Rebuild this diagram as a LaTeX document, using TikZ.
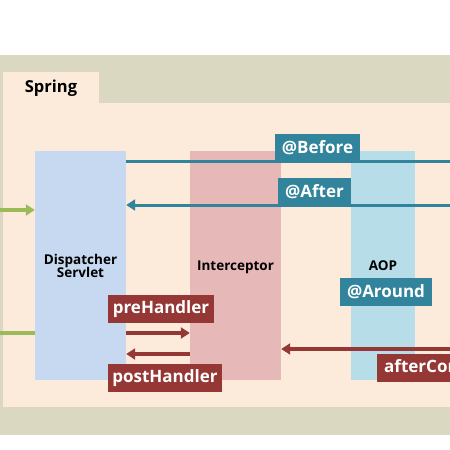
\documentclass[tikz,border=0pt]{standalone}
\usepackage{fontspec}
\setmainfont{Open Sans}
\usetikzlibrary{arrows.meta}
\definecolor{olive}{HTML}{DBD8C2}
\definecolor{peach}{HTML}{FCEBDA}
\definecolor{dsblue}{HTML}{C6D9F0}
\definecolor{icpink}{HTML}{E6B8B7}
\definecolor{aopblue}{HTML}{B7DEE8}
\definecolor{teal}{HTML}{31849B}
\definecolor{dred}{HTML}{953735}
\definecolor{lgreen}{HTML}{9BBB59}
\tikzset{
  x=1pt, y=-1pt,
  comp/.style={minimum height=229pt, inner sep=0pt, font=\bfseries\fontsize{13.5}{15}\selectfont, align=center},
  tlabel/.style={fill=teal, text=white, font=\bfseries\fontsize{17}{18}\selectfont, inner sep=0pt, minimum height=27pt},
  rlabel/.style={fill=dred, text=white, font=\bfseries\fontsize{17}{18}\selectfont, inner sep=0pt, minimum height=28pt},
  tline/.style={draw=teal, line width=3pt},
  rline/.style={draw=dred, line width=4pt},
  gline/.style={draw=lgreen, line width=3.5pt},
  tip/.style={-{Triangle[length=9pt,width=11pt]}}
}
\begin{document}
\begin{tikzpicture}
\useasboundingbox (0,0) rectangle (450,450);
\clip (0,0) rectangle (450,450);
\fill[white] (0,0) rectangle (450,450);
% frame
\fill[olive] (0,55) rectangle (450,435);
\fill[peach] (3,72) rectangle (99,104);
\fill[peach] (3,103) rectangle (450,407);
\node[font=\bfseries\fontsize{16.5}{18}\selectfont, anchor=center] (spring) at (51,88) {Spring};
% components
\node[comp, fill=dsblue, minimum width=91pt] (ds) at (80.5,265.5) {Dispatcher\\[-2pt]Servlet};
\node[comp, fill=icpink, minimum width=91pt, text depth=-1pt] (ic) at (235.5,265.5) {Interceptor};
\node[comp, fill=aopblue, minimum width=64pt] (aop) at (383,265.5) {AOP};
% edge coordinates
\coordinate (bR) at (452,161);
\coordinate (aR) at (452,205);
\coordinate (cR) at (452,349);
\coordinate (g1) at (-2,210);
\coordinate (g2) at (-2,333);
% teal connectors
\draw[tline] (ds.east |- bR) -- (bR);
\draw[tline, tip] (aR) -- (ds.east |- aR);
% green inputs
\draw[gline, tip] (g1) -- (ds.west |- g1);
\draw[gline] (g2) -- (ds.west |- g2);
% red connectors
\coordinate (p1) at (126,333);
\coordinate (p2) at (126,354);
\draw[rline, tip] (ds.east |- p1) -- (ic.west |- p1);
\draw[rline, tip] (ic.west |- p2) -- (ds.east |- p2);
\draw[rline, tip] (cR) -- (ic.east |- cR);
% labels
\node[tlabel, minimum width=85pt] (before) at (317.5,147.5) {@Before};
\node[tlabel, minimum width=73pt] (after) at (314.5,191.5) {@After};
\node[tlabel, minimum width=92pt, minimum height=28pt] (around) at (386,292) {@Around};
\node[rlabel, minimum width=106pt] (pre) at (161,309) {preHandler};
\node[rlabel, minimum width=114pt] (post) at (165,378) {postHandler};
\node[rlabel, anchor=west, inner xsep=7pt] (afc) at (377,368) {afterCompletion};
\end{tikzpicture}
\end{document}
